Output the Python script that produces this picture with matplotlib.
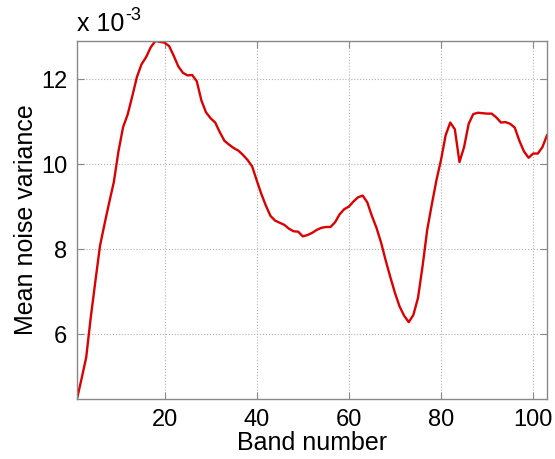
import matplotlib
matplotlib.use("Agg")
import matplotlib.pyplot as plt
from matplotlib.ticker import FuncFormatter

# mean noise variance per band (x 1e-3)
bands = list(range(1, 104))
noise_var = [
	4.47, 4.95, 5.45, 6.40, 7.25, 8.08, 8.60, 9.10, 9.58, 10.30,
	10.87, 11.17, 11.60, 12.05, 12.35, 12.52, 12.75, 12.90, 12.88, 12.86,
	12.78, 12.55, 12.30, 12.15, 12.09, 12.10, 11.95, 11.50, 11.22, 11.08,
	10.98, 10.75, 10.55, 10.46, 10.38, 10.32, 10.22, 10.10, 9.95, 9.62,
	9.30, 9.02, 8.78, 8.67, 8.62, 8.57, 8.48, 8.42, 8.41, 8.30,
	8.33, 8.38, 8.45, 8.50, 8.52, 8.52, 8.63, 8.82, 8.94, 9.00,
	9.12, 9.22, 9.26, 9.10, 8.78, 8.50, 8.15, 7.73, 7.34, 6.97,
	6.65, 6.43, 6.28, 6.45, 6.85, 7.60, 8.45, 9.05, 9.62, 10.10,
	10.68, 10.98, 10.82, 10.05, 10.40, 10.95, 11.18, 11.21, 11.20, 11.19,
	11.19, 11.10, 10.98, 10.99, 10.95, 10.86, 10.55, 10.30, 10.15, 10.25,
	10.25, 10.40, 10.68,
]
noise_var = [v * 1e-3 for v in noise_var]

xticks = [20, 40, 60, 80, 100]
yticks = [6e-3, 8e-3, 10e-3, 12e-3]

plt.rcParams['font.family'] = ['Liberation Sans', 'DejaVu Sans']

fig = plt.figure(figsize=(5.55, 4.59), dpi=100)
ax = fig.add_axes([0.1387, 0.1307, 0.8469, 0.78])

ax.plot(bands, noise_var, color='#dd0000', lw=1.7)

ax.set_xlim(1, 103)
ax.set_ylim(min(noise_var), max(noise_var))
ax.set_xticks(xticks)
ax.set_yticks(yticks)
ax.yaxis.set_major_formatter(FuncFormatter(lambda v, p: f'{v * 1e3:g}'))

ax.grid(True, linestyle=':', color='#b0b0b0', lw=0.8)
ax.tick_params(direction='in', length=5, color='#888888', top=True, right=True,
	labelsize=17, pad=7)
for s in ax.spines.values():
	s.set_color('#888888')
	s.set_linewidth(1.0)

ax.set_xlabel('Band number', fontsize=18, labelpad=0)
ax.set_ylabel('Mean noise variance', fontsize=18, labelpad=2)

# exponent label in the top-left corner
base = ax.text(0.0, 1.015, 'x 10', transform=ax.transAxes,
	fontsize=18, ha='left', va='bottom')
ax.annotate('-3', xy=(1.0, 0.85), xycoords=base, xytext=(1, 0),
	textcoords='offset points', fontsize=13, ha='left', va='center')

fig.savefig('out.png', dpi=100)
